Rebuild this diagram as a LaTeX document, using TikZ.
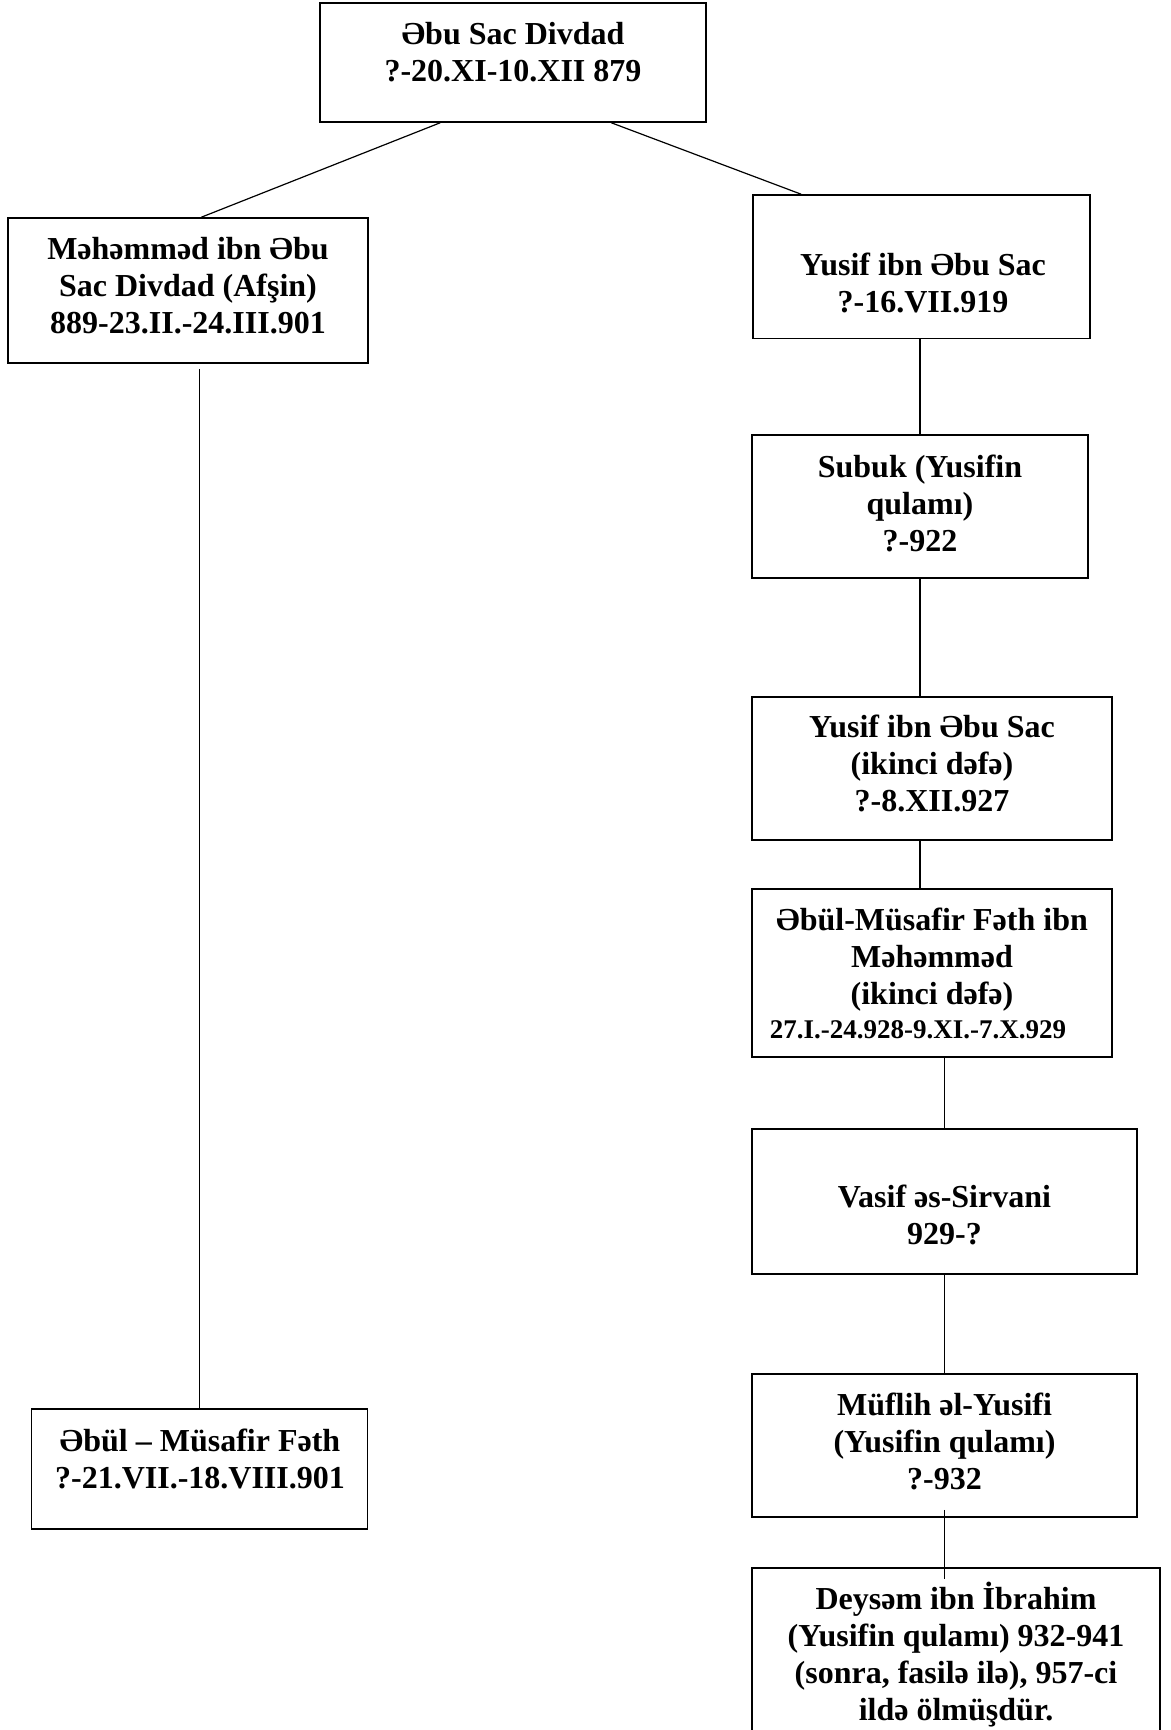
\documentclass[tikz,border=0pt]{standalone}
\usepackage{fontspec}
\setmainfont{Liberation Serif}
\usetikzlibrary{calc}

\begin{document}
\begin{tikzpicture}[x=0.5pt,y=-0.5pt,
    box/.style 2 args={draw,line width=0.75pt,minimum width=#1*0.5pt,minimum height=#2*0.5pt,inner sep=0pt},
    txt/.style={align=center,inner sep=0pt,font=\bfseries\fontsize{16}{18.5}\selectfont},
    con/.style={line width=0.6pt}]
    \clip (0,0) rectangle (1171,1730);
    \fill[white] (0,0) rectangle (1171,1730);
    \node[box={386}{119}] (top) at (513,62.5) {};
    \node[box={360}{145}] (mah) at (188,290.5) {};
    \node[box={337}{143.5}] (yus) at (921.5,266.75) {};
    \node[box={336}{120}] (lbot) at (199.5,1469) {};
    \node[box={336}{143}] (sub) at (920,506.5) {};
    \node[box={360}{143}] (yus2) at (932,768.5) {};
    \node[box={360}{168}] (abul) at (932,973) {};
    \node[box={385}{145}] (vas) at (944.5,1201.5) {};
    \node[box={385}{143}] (muf) at (944.5,1445.5) {};
    \node[box={408}{192}] (dey) at (956,1664) {};
    \node[txt] (top-t) at (513,52.5) {Əbu Sac Divdad\\?-20.XI-10.XII 879};
    \node[txt] (mah-t) at (188,286) {Məhəmməd ibn Əbu\\Sac Divdad (Afşin)\\889-23.II.-24.III.901};
    \node[txt] (yus-t) at (923,282.5) {Yusif ibn Əbu Sac\\?-16.VII.919};
    \node[txt] (lbot-t) at (200,1458.5) {Əbül – Müsafir Fəth\\?-21.VII.-18.VIII.901};
    \node[txt] (sub-t) at (920,503) {Subuk (Yusifin\\qulamı)\\?-922};
    \node[txt] (yus2-t) at (932,763.5) {Yusif ibn Əbu Sac\\(ikinci dəfə)\\?-8.XII.927};
    \node[txt] (abul-t) at (932,973) {Əbül-Müsafir Fəth ibn\\Məhəmməd\\(ikinci dəfə)\\[-1.5pt]{\fontsize{13.5}{15.5}\selectfont 27.I.-24.928-9.XI.-7.X.929\kern14pt}};
    \node[txt] (vas-t) at (944.5,1215) {Vasif əs-Sirvani\\929-?};
    \node[txt] (muf-t) at (944.5,1441) {Müflih əl-Yusifi\\(Yusifin qulamı)\\?-932};
    \node[txt] (dey-t) at (956,1655) {Deysəm ibn İbrahim\\(Yusifin qulamı) 932-941\\(sonra, fasilə ilə), 957-ci\\ildə ölmüşdür.};
    \draw[con] ($(top.south west)+(121,0)$) -- ($(mah.north west)+(194,0)$);
    \draw[con] ($(top.south west)+(292,0)$) -- ($(yus.north west)+(49,0)$);
    \draw[con] ($(lbot.north |- mah.south)+(0,5)$) -- (lbot.north);
    \draw[con] (sub.north |- yus.south) -- (sub.north);
    \draw[con] (sub.south) -- (sub.south |- yus2.north);
    \draw[con] (sub.south |- yus2.south) -- (sub.south |- abul.north);
    \draw[con] (vas.north |- abul.south) -- (vas.north);
    \draw[con] (vas.south) -- (muf.north);
    \draw[con] ($(muf.south)+(0,-8)$) -- ($(muf.south |- dey.north)+(0,12)$);
\end{tikzpicture}
\end{document}
